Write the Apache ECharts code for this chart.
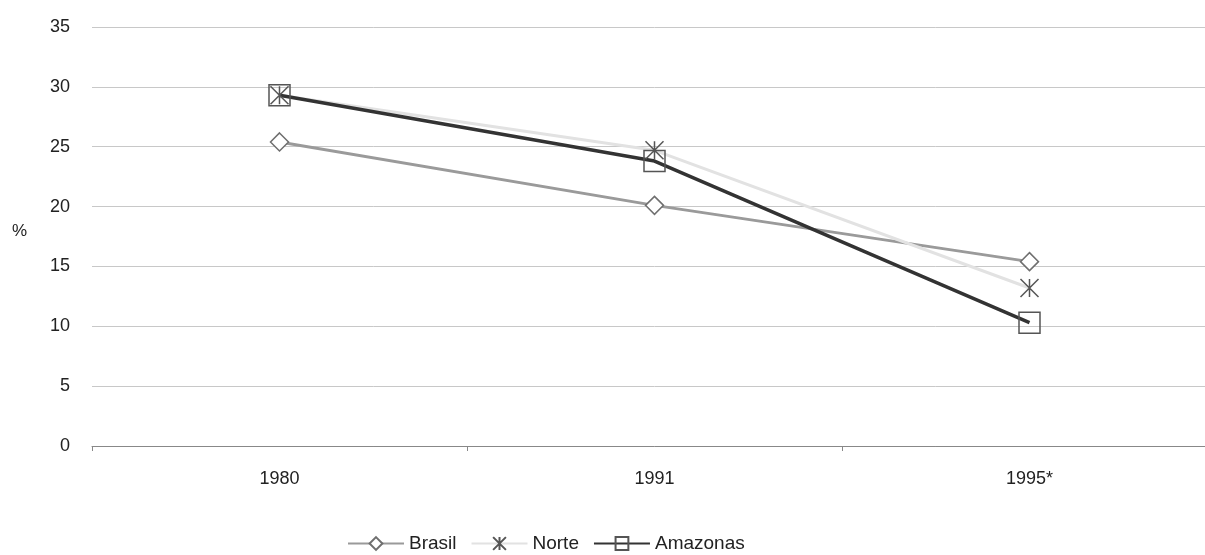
<!DOCTYPE html>
<html><head><meta charset="utf-8">
<script src="https://cdn.jsdelivr.net/npm/echarts@6/dist/echarts.min.js"></script>
<style>html,body{margin:0;padding:0;background:#fff;overflow:hidden;width:1205px;height:555px}#c{width:1217px;height:555px}</style>
</head><body><div id="c"></div>
<script>
const categories = ['1980', '1991', '1995*'];
const brasil = [25.4, 20.1, 15.4];
const norte = [29.3, 24.7, 13.2];
const amazonas = [29.3, 23.8, 10.3];
const yTicks = { min: 0, max: 35, interval: 5 };

const asterisk = 'path://M0,0L10,10M10,0L0,10M5,0L5,10';
const chart = echarts.init(document.getElementById('c'));
chart.setOption({
  backgroundColor: '#fff',
  animation: false,
  textStyle: { fontFamily: 'Liberation Sans, Arial, sans-serif' },
  grid: { left: 92, top: 27, right: 0, height: 419, containLabel: false },
  xAxis: {
    type: 'category', data: categories, boundaryGap: true,
    axisLine: { lineStyle: { color: '#888', width: 1 } },
    axisTick: { show: true, length: 5, lineStyle: { color: '#888' } },
    axisLabel: { color: '#222', fontSize: 18, margin: 24 },
    splitLine: { show: false }
  },
  yAxis: {
    type: 'value', min: yTicks.min, max: yTicks.max, interval: yTicks.interval,
    axisLine: { show: false }, axisTick: { show: false },
    axisLabel: { color: '#222', fontSize: 18, margin: 22 },
    splitLine: { lineStyle: { color: '#c8c8c8', width: 1 } }
  },
  legend: {
    top: 529, left: 342, itemWidth: 56, itemHeight: 16, itemGap: 14,
    textStyle: { color: '#222', fontSize: 19 },
    data: ['Brasil', 'Norte', 'Amazonas']
  },
  graphic: [
    { type: 'text', left: 12, top: 223, style: { text: '%', fontSize: 17, fill: '#222', fontFamily: 'Liberation Sans, Arial, sans-serif' } }
  ],
  series: [
    { name: 'Brasil', type: 'line', data: brasil, symbol: 'diamond', symbolSize: 18,
      lineStyle: { color: '#9a9a9a', width: 3 },
      itemStyle: { color: '#fff', borderColor: '#6f6f6f', borderWidth: 1.5 } },
    { name: 'Norte', type: 'line', data: norte, symbol: asterisk, symbolSize: 18,
      lineStyle: { color: '#e2e2e2', width: 3 },
      itemStyle: { color: 'none', borderColor: '#555', borderWidth: 1.5 } },
    { name: 'Amazonas', type: 'line', data: amazonas, symbol: 'rect', symbolSize: 21,
      lineStyle: { color: '#333', width: 3.5 },
      itemStyle: { color: 'rgba(255,255,255,0)', borderColor: '#555', borderWidth: 1.5 } }
  ]
});
</script></body></html>
